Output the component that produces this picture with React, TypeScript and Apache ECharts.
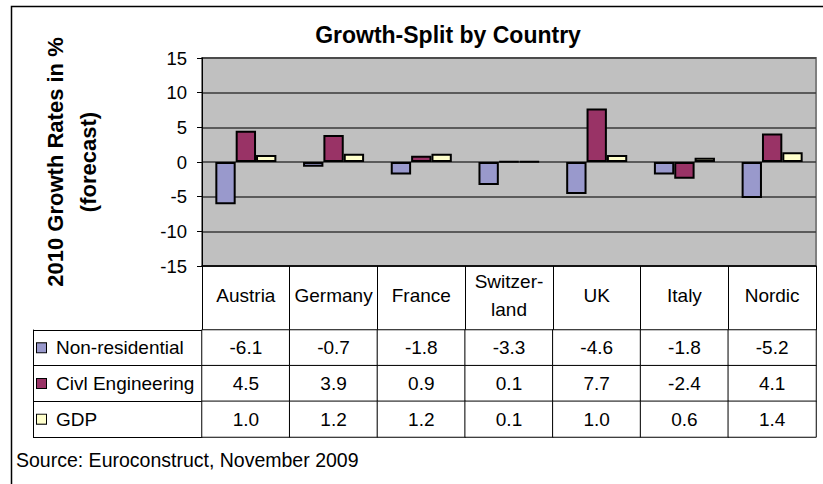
import React, { useEffect, useRef } from "react";
import * as echarts from "echarts";

const countries = ["Austria", "Germany", "France", "Switzer-\nland", "UK", "Italy", "Nordic"];
const seriesNames = ["Non-residential", "Civl Engineering", "GDP"];
const nonResidential = [-6.1, -0.7, -1.8, -3.3, -4.6, -1.8, -5.2];
const civilEngineering = [4.5, 3.9, 0.9, 0.1, 7.7, -2.4, 4.1];
const gdp = [1.0, 1.2, 1.2, 0.1, 1.0, 0.6, 1.4];
const seriesColors = ["#9999CC", "#993366", "#FFFFCC"];
const yMin = -15;
const yMax = 15;
const yInterval = 5;
const chartTitle = "Growth-Split by Country";
const yAxisTitle = "2010 Growth Rates in %\n(forecast)";
const sourceText = "Source: Euroconstruct, November 2009";

const FONT = "Arial, 'Liberation Sans', sans-serif";

export default function App() {
  const ref = useRef<HTMLDivElement>(null);
  useEffect(() => {
    document.body.style.margin = "0";
    if (!ref.current) return;
    const chart = echarts.init(ref.current, null, { renderer: "svg" });
    const values = [nonResidential, civilEngineering, gdp];
    const tableData: any[] = [];
    values.forEach((row, r) => row.forEach((v, c) => tableData.push([c, r, v])));

    const plotLeft = 202, plotRight = 816, plotTop = 58, plotBottom = 266;
    const headerBottom = 330, tableBottom = 437, legendLeft = 33;
    const W = 823;

    const rich: any = {
      t: { fontSize: 19, color: "#000", fontFamily: FONT, padding: [0, 0, 0, 10] },
    };
    seriesColors.forEach((col, i) => {
      rich["k" + i] = { width: 9, height: 9, backgroundColor: col, borderColor: "#000", borderWidth: 1 };
    });

    chart.setOption({
      animation: false,
      textStyle: { fontFamily: FONT },
      grid: [
        {
          left: plotLeft, right: W - plotRight, top: plotTop, height: plotBottom - plotTop,
          show: true, backgroundColor: "#C0C0C0", borderColor: "#808080", borderWidth: 2,
        },
        {
          left: plotLeft, right: W - plotRight, top: headerBottom, height: tableBottom - headerBottom,
          show: false,
        },
      ],
      xAxis: [
        {
          type: "category", gridIndex: 0, data: countries,
          axisLine: { onZero: false, lineStyle: { color: "#000", width: 1.5 } },
          axisTick: { show: true, interval: 0, length: headerBottom - plotBottom, lineStyle: { color: "#000", width: 1 } },
          axisLabel: {
            interval: 0, fontSize: 19, lineHeight: 28, color: "#000", fontFamily: FONT,
            verticalAlign: "middle", margin: 29,
          },
          splitLine: { show: false },
        },
        {
          type: "category", gridIndex: 1, data: countries,
          axisLine: { show: false }, axisTick: { show: false }, axisLabel: { show: false }, splitLine: { show: false },
        },
      ],
      yAxis: [
        {
          type: "value", gridIndex: 0, min: yMin, max: yMax, interval: yInterval,
          name: yAxisTitle, nameLocation: "middle", nameRotate: 90, nameGap: 97,
          nameTextStyle: { fontSize: 22, fontWeight: "bold", color: "#000", lineHeight: 33, fontFamily: FONT },
          axisLine: { show: true, lineStyle: { color: "#000", width: 1 } },
          axisTick: { show: true, length: 5, lineStyle: { color: "#000" } },
          axisLabel: { fontSize: 18.5, color: "#000", margin: 15, fontFamily: FONT },
          splitLine: { show: true, lineStyle: { color: "#3a3a3a", width: 1.5 } },
        },
        {
          type: "category", gridIndex: 1, data: seriesNames, inverse: true,
          axisLine: { show: true, lineStyle: { color: "#000", width: 1 } },
          axisTick: { show: true, interval: 0, length: plotLeft - legendLeft, lineStyle: { color: "#000", width: 1 } },
          axisLabel: {
            interval: 0, align: "left", margin: plotLeft - 37,
            formatter: (v: string, i: number) => `{k${i}|}{t|${v}}`,
            rich,
          },
          splitLine: { show: false },
        },
        {
          type: "category", gridIndex: 1, data: seriesNames, inverse: true, position: "left",
          offset: plotLeft - legendLeft,
          axisLine: { show: true, lineStyle: { color: "#000", width: 1 } },
          axisTick: { show: false }, axisLabel: { show: false }, splitLine: { show: false },
        },
      ],
      visualMap: [
        { type: "continuous", show: false, seriesIndex: 3, min: -100, max: 100, inRange: { color: ["#ffffff", "#ffffff"] } },
      ],
      series: [
        ...values.map((vals, i) => ({
          type: "bar", name: seriesNames[i], xAxisIndex: 0, yAxisIndex: 0, data: vals,
          barGap: "0%", barCategoryGap: "30.4%",
          itemStyle: { color: seriesColors[i], borderColor: "#000", borderWidth: 2 },
          emphasis: { disabled: true },
        })),
        {
          type: "heatmap", xAxisIndex: 1, yAxisIndex: 1, data: tableData,
          itemStyle: { color: "#fff", borderColor: "#000", borderWidth: 1 },
          label: {
            show: true, fontSize: 19, color: "#000", fontFamily: FONT,
            formatter: (p: any) => Number(p.value[2]).toFixed(1),
          },
          emphasis: { disabled: true },
        },
      ],
      graphic: [
        {
          type: "rect", silent: true, z: 100,
          shape: { x: 11.5, y: 6.5, width: 900, height: 600 },
          style: { fill: "none", stroke: "#000", lineWidth: 1.5 },
        },
        {
          type: "text", x: 448, y: 35,
          style: { text: chartTitle, textAlign: "center", textVerticalAlign: "middle", fill: "#000", font: `bold 23px ${FONT}` },
        },
        {
          type: "text", x: 16, y: 460,
          style: { text: sourceText, textAlign: "left", textVerticalAlign: "middle", fill: "#000", font: `19.5px ${FONT}` },
        },
      ],
    });
    return () => chart.dispose();
  }, []);
  return <div ref={ref} style={{ width: 823, height: 484 }} />;
}
